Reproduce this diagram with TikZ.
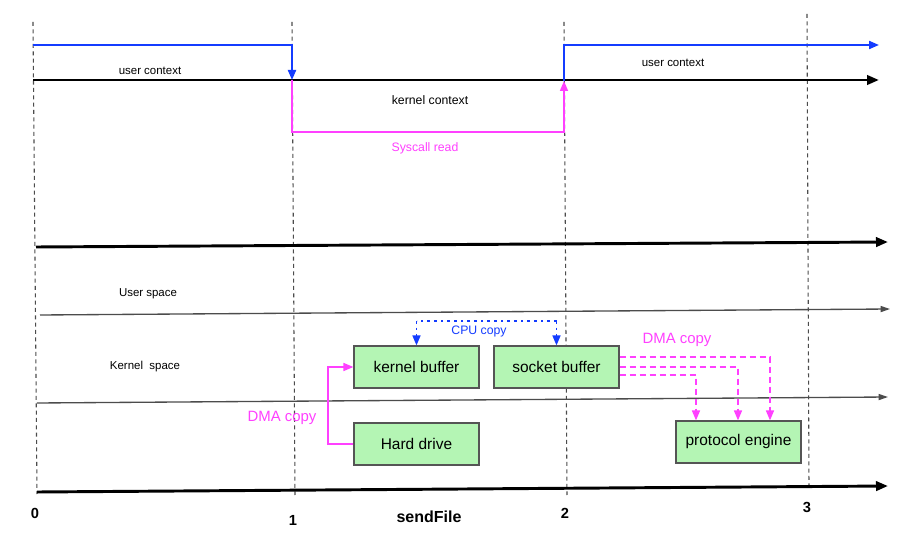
\documentclass[tikz,border=0pt]{standalone}
\usepackage{fontspec}
\setmainfont{Liberation Sans}
\usetikzlibrary{arrows.meta,calc}
\definecolor{cblue}{RGB}{20,60,255}
\definecolor{cpink}{RGB}{255,64,255}
\definecolor{boxfill}{RGB}{180,245,180}
\definecolor{boxline}{RGB}{85,85,85}
\tikzset{
  tip/.style={-{Triangle[length=7.5pt,width=6pt]}},
  bigtip/.style={-{Triangle[length=9pt,width=7pt]}},
  guide/.style={draw=black!70,line width=0.8pt,dash pattern=on 3pt off 2.5pt},
  axis/.style={draw=black,line width=2.2pt,bigtip},
  thin/.style={draw=black!70,line width=1pt,-{Triangle[length=7pt,width=4.5pt]}},
  ctxblue/.style={draw=cblue,line width=1.5pt,tip},
  ctxpink/.style={draw=cpink,line width=1.2pt,tip},
  cpu/.style={draw=cblue,line width=1.2pt,dash pattern=on 2pt off 3pt},
  dma/.style={draw=cpink,line width=1.2pt,dash pattern=on 4.5pt off 3pt,tip},
  dmasolid/.style={draw=cpink,line width=1.2pt,tip},
  box/.style={draw=boxline,fill=boxfill,line width=0.9pt,minimum width=93.75pt,minimum height=31.5pt,inner sep=0pt,font=\fontsize{11.6}{13}\selectfont},
  lbl/.style={inner sep=0pt,font=\fontsize{8.6}{10}\selectfont},
  lblmid/.style={inner sep=0pt,font=\fontsize{9.2}{11}\selectfont},
  lblbig/.style={inner sep=0pt,font=\fontsize{11.2}{13}\selectfont},
  num/.style={inner sep=0pt,font=\fontsize{11}{13}\selectfont\bfseries},
}
\begin{document}
\begin{tikzpicture}[x=0.75pt,y=-0.75pt]
\path[use as bounding box,fill=white] (0,0) rectangle (924,555);

% guide lines
\coordinate (g0t) at (33,22);  \coordinate (g0b) at (37,494);
\coordinate (g1t) at (292,22); \coordinate (g1b) at (295,495);
\coordinate (g2t) at (564,22); \coordinate (g2b) at (567,495);
\coordinate (g3t) at (807,14); \coordinate (g3b) at (809,488);
\draw[guide] (g0t) -- (g0b);
\draw[guide] (g1t) -- (g1b);
\draw[guide] (g2t) -- (g2b);
\draw[guide] (g3t) -- (g3b);

% top context timeline
\coordinate (ta) at (33,80);  \coordinate (tb) at (879,80);
\draw[axis] (ta) -- (tb);
\coordinate (u1) at (33,45); \coordinate (u1c) at (292,45); \coordinate (k1) at (292,80);
\draw[ctxblue] (u1) -- (u1c) -- (k1);
\coordinate (p1) at (292,132); \coordinate (p2) at (564,132); \coordinate (k2) at (564,81);
\draw[ctxpink] (k1) -- (p1) -- (p2) -- (k2);
\coordinate (u2c) at (564,45); \coordinate (u2) at (879,45);
\draw[ctxblue] (k2) -- (u2c) -- (u2);

\node[lbl] (uc1) at (150,71) {user context};
\node[lblmid] (kc) at (430,100) {kernel context};
\node[lblmid,text=cpink] (sr) at (425,148) {Syscall read};
\node[lbl] (uc2) at (673,63) {user context};

% spaces
\coordinate (m1a) at (36,247); \coordinate (m1b) at (888,242);
\draw[axis] (m1a) -- (m1b);
\coordinate (m2a) at (40,315); \coordinate (m2b) at (890,309);
\draw[thin] (m2a) -- (m2b);
\coordinate (m3a) at (37,403); \coordinate (m3b) at (888,397);
\draw[thin] (m3a) -- (m3b);
\coordinate (m4a) at (37,492); \coordinate (m4b) at (888,486);
\draw[axis] (m4a) -- (m4b);

\node[lbl] (us) at (148,294) {User space};
\node[lbl] (ks) at (145,367) {Kernel\ \ space};

% boxes
\node[box] (kb) at (416.5,367) {kernel buffer};
\node[box] (sb) at (556.5,367) {socket buffer};
\node[box] (hd) at (416.5,444) {Hard drive};
\node[box] (pe) at (738.5,442) {protocol engine};

% DMA copy: hard drive -> kernel buffer
\coordinate (dx) at (328,0);
\draw[dmasolid] (hd.west) -- (hd.west -| dx) -- (kb.west -| dx) -- (kb.west);
\node[lblbig,text=cpink] (dma1) at (282,418) {DMA copy};

% CPU copy
\coordinate (cy) at (0,321);
\draw[cpu] (sb.north |- cy) -- (kb.north |- cy);
\draw[cpu,tip] (sb.north |- cy) -- (sb.north);
\draw[cpu,tip] (kb.north |- cy) -- (kb.north);
\node[lblmid,text=cblue] (cpuc) at (479,331) {CPU copy};

% DMA copy: socket buffer -> protocol engine
\coordinate (d1) at (770,357); \coordinate (d2) at (738,367); \coordinate (d3) at (696,375);
\draw[dma] (sb.east |- d1) -- (d1) -- (d1 |- pe.north);
\draw[dma] (sb.east |- d2) -- (d2) -- (d2 |- pe.north);
\draw[dma] (sb.east |- d3) -- (d3) -- (d3 |- pe.north);
\node[lblbig,text=cpink] (dma2) at (677,340) {DMA copy};

% bottom labels
\node[num] (n0) at (35,513) {0};
\node[num] (n1) at (293,520) {1};
\node[inner sep=0pt,font=\fontsize{12}{14}\selectfont\bfseries] (sf) at (429,517) {sendFile};
\node[num] (n2) at (565,513) {2};
\node[num] (n3) at (807,507) {3};
\end{tikzpicture}
\end{document}
